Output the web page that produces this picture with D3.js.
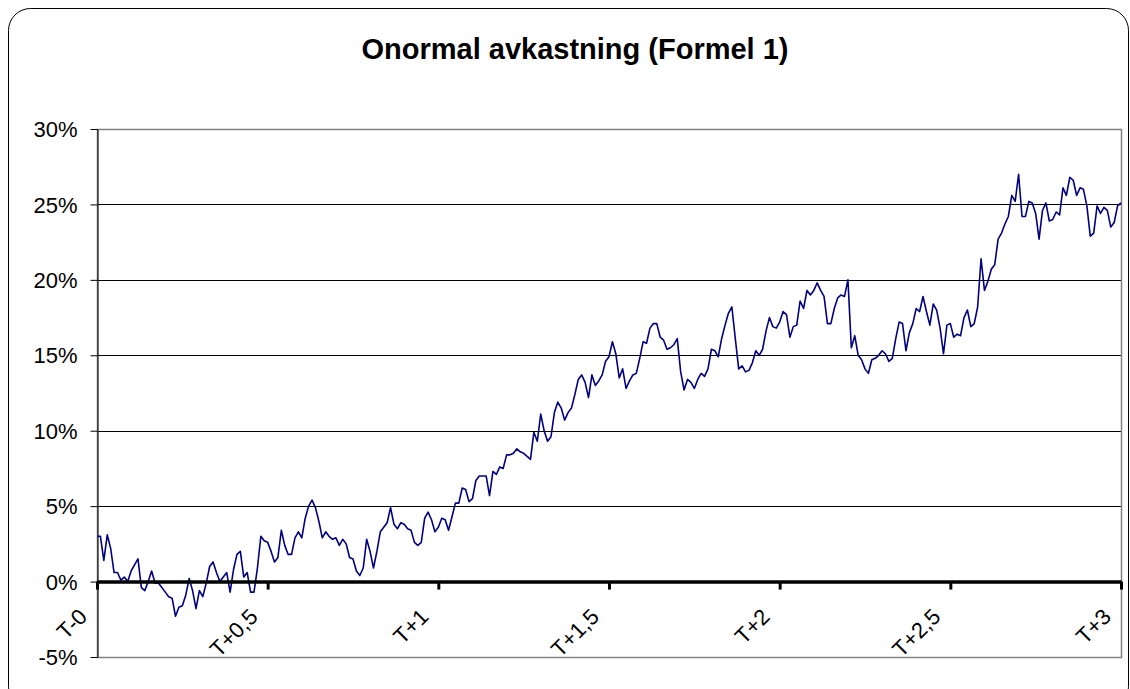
<!DOCTYPE html>
<html>
<head>
<meta charset="utf-8">
<script src="https://cdn.jsdelivr.net/npm/d3@7/dist/d3.min.js"></script>
<style>
  body { margin: 0; background: #fff; }
  text { font-family: "Liberation Sans", Arial, sans-serif; }
</style>
</head>
<body>
<svg id="chart" width="1130" height="689"></svg>
<script>
// onormal avkastning, en punkt per 1/100 år (T-0 .. T+3)
var avkastning = [
  3.0, 3.0, 1.4, 3.1, 2.2, 0.6, 0.6, 0.1, 0.3, 0.0,
  0.7, 1.1, 1.5, -0.4, -0.6, 0.0, 0.7, -0.1, -0.1, -0.4,
  -0.7, -1.0, -1.1, -2.3, -1.7, -1.6, -0.9, 0.2, -0.6, -1.8,
  -0.6, -1.0, -0.1, 1.0, 1.3, 0.6, 0.0, 0.3, 0.6, -0.7,
  0.8, 1.8, 2.0, 0.3, 0.6, -0.7, -0.7, 0.9, 3.0, 2.7,
  2.6, 2.0, 1.3, 1.6, 3.4, 2.4, 1.8, 1.8, 2.9, 3.3,
  2.9, 4.2, 5.0, 5.4, 4.9, 4.0, 2.9, 3.3, 3.0, 2.8,
  2.9, 2.4, 2.8, 2.5, 1.6, 1.5, 0.7, 0.4, 0.9, 2.8,
  2.0, 0.9, 2.0, 3.3, 3.6, 3.9, 4.9, 3.8, 3.5, 3.9,
  3.8, 3.5, 3.4, 2.6, 2.4, 2.6, 4.2, 4.6, 4.1, 3.3,
  3.6, 4.2, 4.1, 3.4, 4.3, 5.2, 5.2, 6.2, 6.1, 5.3,
  5.5, 6.7, 7.0, 7.0, 7.0, 5.7, 7.3, 7.1, 7.6, 7.5,
  8.4, 8.4, 8.5, 8.8, 8.6, 8.5, 8.3, 8.1, 9.9, 9.3,
  11.1, 10.0, 9.3, 9.6, 11.2, 11.9, 11.5, 10.7, 11.2, 11.5,
  12.4, 13.4, 13.7, 13.2, 12.2, 13.7, 13.0, 13.3, 13.7, 14.6,
  14.9, 15.9, 15.1, 13.5, 14.1, 12.8, 13.3, 13.7, 13.8, 14.8,
  15.9, 15.8, 16.8, 17.1, 17.1, 16.2, 16.0, 15.4, 15.5, 15.7,
  16.1, 13.9, 12.7, 13.4, 13.2, 12.8, 13.4, 13.8, 13.6, 14.1,
  15.4, 15.3, 14.9, 16.1, 17.0, 17.8, 18.2, 16.1, 14.1, 14.3,
  13.9, 14.0, 14.5, 15.3, 15.0, 15.4, 16.6, 17.5, 16.9, 16.8,
  17.2, 17.9, 17.7, 16.2, 16.9, 17.0, 18.6, 18.1, 19.3, 19.0,
  19.3, 19.8, 19.3, 18.9, 17.1, 17.1, 18.1, 18.8, 19.0, 18.9,
  20.0, 15.5, 16.3, 15.0, 14.7, 14.1, 13.8, 14.7, 14.8, 15.0,
  15.3, 15.1, 14.6, 14.8, 16.1, 17.2, 17.1, 15.3, 16.5, 17.1,
  18.1, 17.9, 18.9, 17.9, 17.0, 18.4, 18.0, 16.8, 15.1, 17.0,
  17.1, 16.2, 16.4, 16.3, 17.5, 18.0, 16.9, 17.1, 18.2, 21.4,
  19.3, 19.9, 20.7, 21.0, 22.7, 23.1, 23.7, 24.2, 25.6, 25.2,
  27.0, 24.2, 24.2, 25.2, 25.1, 24.4, 22.7, 24.6, 25.1, 23.9,
  24.0, 24.5, 24.3, 26.1, 25.6, 26.8, 26.6, 25.6, 26.1, 26.0,
  24.9, 22.9, 23.1, 24.9, 24.4, 24.8, 24.6, 23.5, 23.8, 24.9,
  25.1
];
var tidTicks = [0, 50, 100, 150, 200, 250, 300];
var tidEtiketter = ["T-0", "T+0,5", "T+1", "T+1,5", "T+2", "T+2,5", "T+3"];
var yTicks = [-5, 0, 5, 10, 15, 20, 25, 30];
var titel = "Onormal avkastning (Formel 1)";

var svg = d3.select('#chart');
var vanster = 97, hoger = 1121, topp = 129, botten = 657;

var x = d3.scaleLinear().domain([0, 300]).range([vanster, hoger]);
var y = d3.scaleLinear().domain([-5, 30]).range([botten, topp]);

// ram runt hela diagrammet (nederkanten hamnar utanför bilden)
svg.append('rect')
  .attr('x', 8.5).attr('y', 8.5)
  .attr('width', 1120).attr('height', 700)
  .attr('rx', 22).attr('ry', 22)
  .attr('style', 'fill:#fff;stroke:#000;stroke-width:1');

svg.append('text')
  .attr('x', 575).attr('y', 59)
  .attr('text-anchor', 'middle')
  .attr('style', 'font-size:29px;font-weight:bold;fill:#000')
  .text(titel);

// stödlinjer
svg.append('g').selectAll('line')
  .data(yTicks.filter(function (d) { return d > -5 && d < 30 && d !== 0; }))
  .enter().append('line')
  .attr('x1', vanster).attr('x2', hoger)
  .attr('y1', function (d) { return Math.round(y(d)) + 0.5; })
  .attr('y2', function (d) { return Math.round(y(d)) + 0.5; })
  .attr('style', 'stroke:#000;stroke-width:1');

// plotytans ram (grå)
svg.append('rect')
  .attr('x', vanster + 0.5).attr('y', topp + 0.5)
  .attr('width', hoger - vanster).attr('height', botten - topp)
  .attr('style', 'fill:none;stroke:#808080;stroke-width:1.5');

// y-axel
var yAxel = d3.axisLeft(y).tickValues(yTicks).tickSize(7).tickSizeOuter(0)
  .tickFormat(function (d) { return d + '%'; });
var gy = svg.append('g').attr('transform', 'translate(' + (vanster + 0.5) + ',0)').call(yAxel);
gy.selectAll('path, line').attr('stroke', '#000');
gy.selectAll('text')
  .attr('x', -20).attr('dy', '0.35em')
  .attr('style', 'font-size:22px;fill:#000');

// linjen
var linje = d3.line()
  .x(function (d, i) { return x(i); })
  .y(function (d) { return y(d); });
svg.append('path')
  .datum(avkastning)
  .attr('d', linje)
  .attr('style', 'fill:none;stroke:#000080;stroke-width:1.6;stroke-linejoin:round');

// x-axel vid 0 %
var xAxel = d3.axisBottom(x).tickValues(tidTicks).tickSize(8).tickSizeOuter(0)
  .tickFormat(function (d, i) { return tidEtiketter[i]; });
var gx = svg.append('g').attr('transform', 'translate(0,' + y(0) + ')').call(xAxel);
gx.select('.domain').attr('stroke', '#000').attr('stroke-width', 3.5);
gx.selectAll('.tick line').attr('stroke', '#000').attr('stroke-width', 3);
gx.selectAll('.tick text')
  .attr('y', 0).attr('dy', 0)
  .attr('text-anchor', 'end')
  .attr('transform', 'translate(-9,' + (618 - y(0)) + ') rotate(-45)')
  .attr('style', 'font-size:22px;fill:#000');
</script>
</body>
</html>
